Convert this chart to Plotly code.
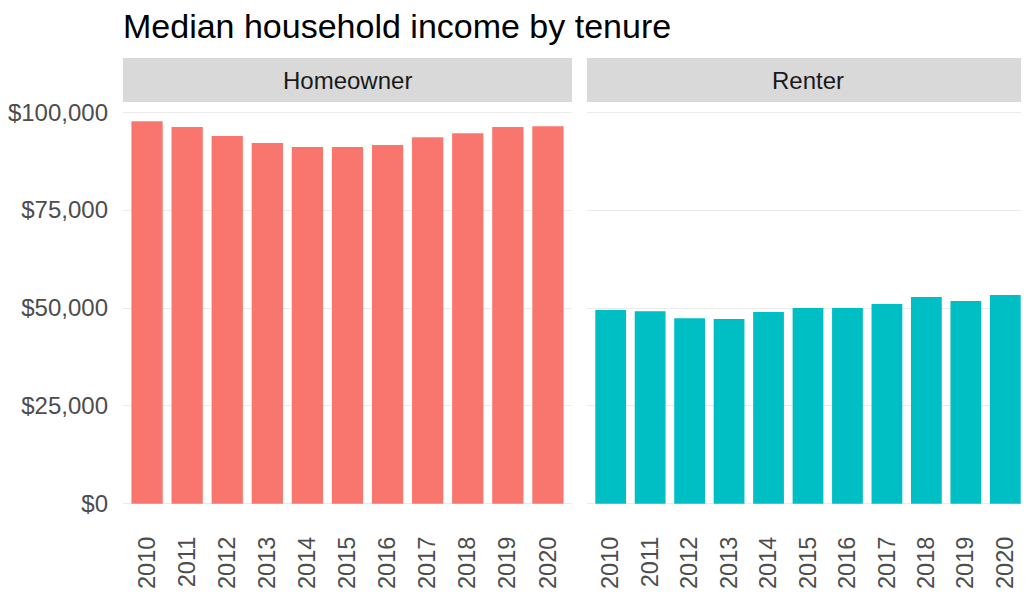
import plotly.graph_objects as go
from plotly.subplots import make_subplots

years = ["2010", "2011", "2012", "2013", "2014", "2015", "2016", "2017", "2018", "2019", "2020"]
homeowner = [97700, 96200, 93900, 92100, 91100, 91100, 91600, 93600, 94600, 96200, 96400]
renter = [49500, 49200, 47400, 47200, 49000, 50000, 50000, 51000, 52800, 51800, 53300]
panels = ["Homeowner", "Renter"]
colors = ["#F8766D", "#00BFC4"]
y_ticks = [0, 25000, 50000, 75000, 100000]

FONT = "Liberation Sans, Arial, sans-serif"
PAGE_OFF = 8  # default body margin of the html page


def main():
    fig = make_subplots(rows=1, cols=2, shared_yaxes=True, horizontal_spacing=0.0165)

    for i, vals in enumerate([homeowner, renter]):
        fig.add_trace(go.Bar(
            x=years, y=vals,
            marker_color=colors[i], marker_line_width=0,
            showlegend=False,
        ), row=1, col=i + 1)

    top = max(homeowner + renter)
    yrange = [-0.05 * top, top * 1.05]

    fig.update_layout(
        width=1029, height=601,
        margin=dict(l=123 - PAGE_OFF, r=PAGE_OFF, t=102 - PAGE_OFF, b=78 + PAGE_OFF,
                    autoexpand=False),
        paper_bgcolor="white", plot_bgcolor="white",
        bargap=0.22,
        font=dict(family=FONT, color="#4D4D4D"),
        title=dict(
            text="Median household income by tenure",
            x=(123 - PAGE_OFF) / 1029, xanchor="left",
            y=1 - (26 - PAGE_OFF) / 601, yanchor="middle",
            font=dict(size=34, color="black", family=FONT),
            automargin=False,
        ),
    )

    fig.update_xaxes(
        range=[-0.6, 10.6], tickangle=-90,
        tickfont=dict(size=23.5, color="#4D4D4D"),
        showgrid=True, gridcolor="white", gridwidth=2,
        zeroline=False, showline=False, ticks="",
        ticklabelstandoff=8, automargin=False,
    )
    fig.update_xaxes(domain=[0, 449 / 906], row=1, col=1)
    fig.update_xaxes(domain=[464 / 906, 1], row=1, col=2)

    fig.update_yaxes(
        range=yrange, tickvals=y_ticks, tickformat="$,.0f",
        tickfont=dict(size=24, color="#4D4D4D"),
        showgrid=True, gridcolor="#EBEBEB", gridwidth=1.2,
        zeroline=False, showline=False, ticks="",
        ticklabelstandoff=14, automargin=False,
    )

    # facet strips
    plot_h = 601 - (102 - PAGE_OFF) - (78 + PAGE_OFF)
    strip_h = 44 / plot_h
    for xa, name in zip(["x", "x2"], panels):
        fig.add_shape(
            type="rect", xref=f"{xa} domain", yref="paper",
            x0=0, x1=1, y0=1, y1=1 + strip_h,
            fillcolor="#D9D9D9", line_width=0, layer="below",
        )
        fig.add_annotation(
            text=name, xref=f"{xa} domain", yref="paper",
            x=0.5, y=1 + strip_h / 2, showarrow=False,
            font=dict(size=24, color="#1A1A1A", family=FONT),
            xanchor="center", yanchor="middle",
        )

    fig.write_html("out.html")


if __name__ == '__main__':
    main()
